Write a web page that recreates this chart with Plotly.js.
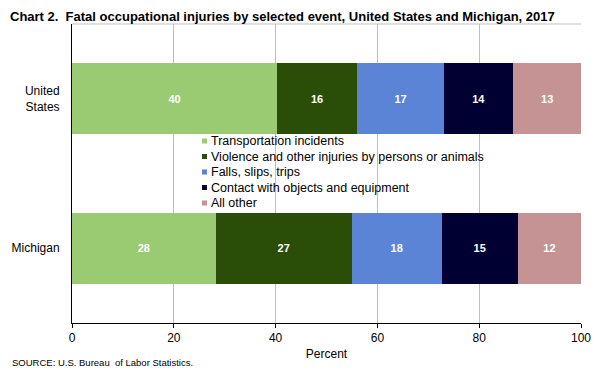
<!DOCTYPE html>
<html>
<head>
<meta charset="utf-8">
<script src="https://cdn.plot.ly/plotly-3.0.1.min.js"></script>
<style>html,body{margin:0;padding:0;background:#fff;}#chart{width:600px;height:373px;}</style>
</head>
<body>
<div id="chart"></div>
<script>
const categories = ["United States", "Michigan"];
const categoryLabels = ["United<br>States", "Michigan"];
const seriesNames = [
  "Transportation incidents",
  "Violence and other injuries by persons or animals",
  "Falls, slips, trips",
  "Contact with objects and equipment",
  "All other"
];
const transportation = [40.3, 28.2];
const violence = [15.7, 26.8];
const falls = [17.1, 17.6];
const contact = [13.6, 15.0];
const allOther = [13.3, 12.4];
const xTicks = [0, 20, 40, 60, 80, 100];

const seriesValues = [transportation, violence, falls, contact, allOther];
const colors = ["#9aca72", "#2a4e07", "#5b84d6", "#000033", "#c59393"];

const traces = seriesValues.map((vals, i) => ({
  type: "bar",
  orientation: "h",
  name: seriesNames[i],
  x: vals,
  y: categories,
  marker: {color: colors[i], line: {width: 0}},
  texttemplate: "%{x:.0f}",
  textposition: "inside",
  insidetextanchor: "middle",
  textangle: 0,
  constraintext: "none",
  textfont: {family: "Liberation Sans, Arial, sans-serif", size: 11, color: "#ffffff", weight: "bold"},
  hoverinfo: "skip",
  showlegend: false
}));

// Legend drawn as a compact key (Excel-style spacing) inside the plot area
const plotLeft = 72, plotWidth = 509, plotBottom = 323, plotHeight = 299;
const px2x = p => (p - plotLeft) / plotWidth;
const px2y = p => (plotBottom - p) / plotHeight;
const keyTop = 141, keyStep = 15.5;

const shapes = [
  {type: "line", xref: "paper", yref: "paper", x0: 0, x1: 1, y0: 1, y1: 1, line: {color: "#bfbfbf", width: 1}},
  {type: "rect", xref: "paper", yref: "paper", layer: "between",
   x0: px2x(197), x1: px2x(500), y0: px2y(211), y1: px2y(135),
   fillcolor: "#ffffff", line: {width: 0}}
];
const annotations = [];
seriesNames.forEach((name, i) => {
  const cy = keyTop + i * keyStep;
  shapes.push({type: "rect", xref: "paper", yref: "paper", layer: "above",
    x0: px2x(202), x1: px2x(207), y0: px2y(cy + 2.5), y1: px2y(cy - 2.5),
    fillcolor: colors[i], line: {width: 0}});
  annotations.push({text: name, xref: "paper", yref: "paper",
    x: px2x(210), y: px2y(cy), xanchor: "left", yanchor: "middle",
    showarrow: false, borderpad: 0,
    font: {family: "Liberation Sans, Arial, sans-serif", size: 12.5, color: "#000000"}});
});
annotations.push({
  text: "SOURCE: U.S. Bureau  of Labor Statistics.",
  xref: "paper", yref: "paper",
  x: px2x(11), y: px2y(356), xanchor: "left", yanchor: "top",
  showarrow: false, borderpad: 0,
  font: {family: "Liberation Sans, Arial, sans-serif", size: 9.5, color: "#000000"}
});

const layout = {
  width: 600,
  height: 373,
  margin: {l: 72, r: 19, t: 24, b: 50},
  paper_bgcolor: "#ffffff",
  plot_bgcolor: "#ffffff",
  barmode: "stack",
  bargap: 0.525,
  showlegend: false,
  font: {family: "Liberation Sans, Arial, sans-serif", size: 12, color: "#000000"},
  title: {
    text: "<b>Chart 2.  Fatal occupational injuries by selected event, United States and Michigan, 2017</b>",
    font: {family: "Liberation Sans, Arial, sans-serif", size: 13, color: "#000000"},
    x: 10 / 600, xanchor: "left", xref: "container",
    y: 1 - 16 / 373, yanchor: "middle", yref: "container"
  },
  xaxis: {
    range: [0, 100],
    tickvals: xTicks,
    ticktext: xTicks.map(String),
    showgrid: true,
    gridcolor: "#bfbfbf",
    gridwidth: 1,
    showline: true,
    linecolor: "#000000",
    linewidth: 1,
    ticks: "outside",
    ticklen: 4,
    tickcolor: "#000000",
    zeroline: false,
    tickfont: {size: 12, color: "#000000"},
    title: {text: "Percent", font: {size: 12, color: "#000000"}, standoff: 5},
    fixedrange: true
  },
  yaxis: {
    type: "category",
    categoryorder: "array",
    categoryarray: categories,
    autorange: "reversed",
    tickvals: categories,
    ticktext: categoryLabels,
    showline: true,
    linecolor: "#000000",
    linewidth: 1,
    ticks: "",
    showgrid: false,
    zeroline: false,
    ticklabelstandoff: 9,
    tickfont: {size: 12, color: "#000000"},
    fixedrange: true
  },
  shapes: shapes,
  annotations: annotations
};

Plotly.newPlot("chart", traces, layout, {displayModeBar: false, staticPlot: true});
</script>
</body>
</html>
